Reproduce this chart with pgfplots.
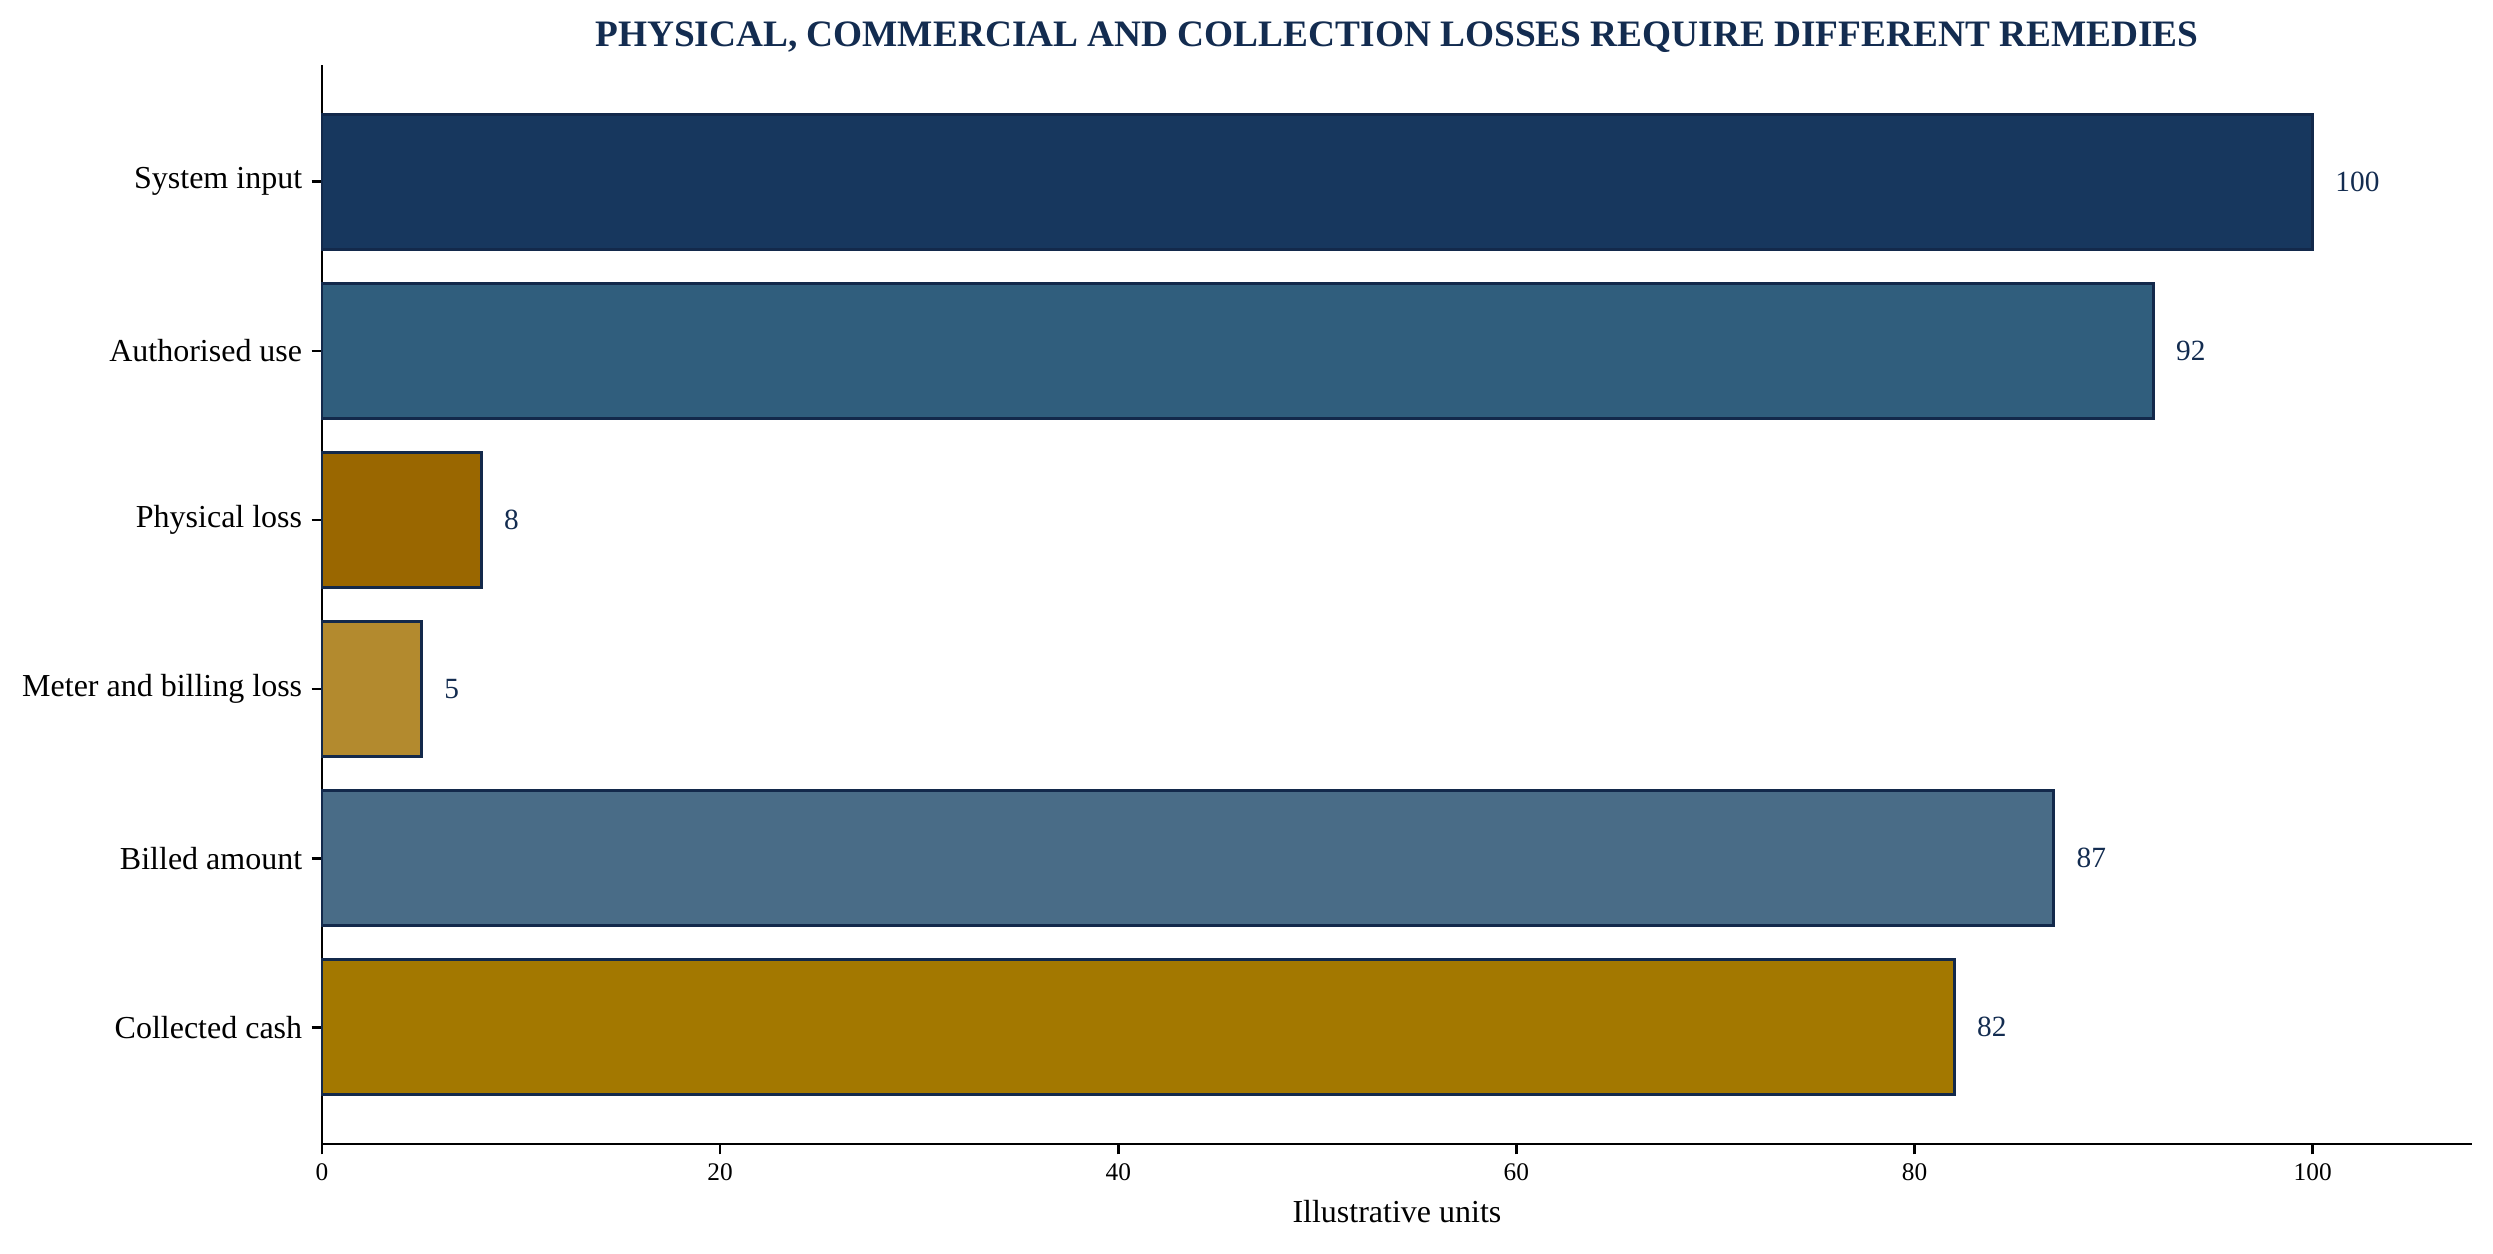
\documentclass[border=0pt]{standalone}
\usepackage{fontspec}
\setmainfont{Liberation Serif}
\usepackage{pgfplots}
\pgfplotsset{compat=1.18}
\definecolor{cA}{HTML}{17375E}
\definecolor{cB}{HTML}{305E7D}
\definecolor{cC}{HTML}{9A6700}
\definecolor{cD}{HTML}{B38A2E}
\definecolor{cE}{HTML}{496C87}
\definecolor{cF}{HTML}{A37800}
\definecolor{edgec}{HTML}{13294B}
\definecolor{titlec}{HTML}{132C50}
\begin{document}
\begin{tikzpicture}
\begin{axis}[
  scale only axis, width=806.25pt, height=404.6pt,
  xbar, bar shift=0pt, bar width=0.8,
  xmin=0, xmax=108, ymin=-0.69, ymax=5.69,
  axis x line*=bottom, axis y line*=left,
  axis line style={line width=1pt, -, black},
  xtick={0,20,40,60,80,100},
  ytick={0,1,2,3,4,5},
  yticklabels={Collected cash, Billed amount, Meter and billing loss, Physical loss, Authorised use, System input},
  tick style={black, line width=1pt}, tick align=outside, major tick length=3.9pt,
  xticklabel style={font=\fontsize{9.5}{11}\selectfont},
  yticklabel style={font=\fontsize{12}{14}\selectfont},
  /pgf/number format/assume math mode=true,
  xlabel={Illustrative units},
  xlabel style={font=\fontsize{12}{14}\selectfont, anchor=base, at={(axis description cs:0.5,0)}, yshift=-29.6pt},
  title={PHYSICAL, COMMERCIAL AND COLLECTION LOSSES REQUIRE DIFFERENT REMEDIES},
  title style={font=\fontsize{14}{16}\selectfont\bfseries, color=titlec, anchor=base, at={(axis description cs:0.5,1)}, yshift=1.1pt},
  point meta=x,
  nodes near coords,
  nodes near coords style={anchor=west, inner sep=0pt, xshift=8pt, font=\fontsize{11}{13}\selectfont, color=titlec},
  clip=false,
  every axis plot/.append style={draw=edgec, line width=1.1pt},
]
\addplot[fill=cA] coordinates {(100,5)};
\addplot[fill=cB] coordinates {(92,4)};
\addplot[fill=cC] coordinates {(8,3)};
\addplot[fill=cD] coordinates {(5,2)};
\addplot[fill=cE] coordinates {(87,1)};
\addplot[fill=cF] coordinates {(82,0)};
\end{axis}
\pgfresetboundingbox
\path ([xshift=-120.75pt,yshift=-40.9pt]current axis.south west) rectangle ([xshift=7.9pt,yshift=24.4pt]current axis.north east);
\end{tikzpicture}
\end{document}
